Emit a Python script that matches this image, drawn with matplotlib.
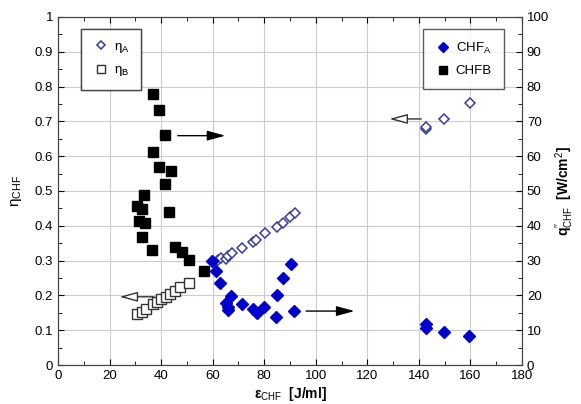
import matplotlib
matplotlib.use("Agg")
import matplotlib.pyplot as plt
from matplotlib.ticker import MultipleLocator
from matplotlib.lines import Line2D

plt.rcParams['font.family'] = ['Liberation Sans', 'DejaVu Sans']
plt.rcParams['mathtext.fontset'] = 'custom'
plt.rcParams['mathtext.rm'] = 'Liberation Sans'
plt.rcParams['mathtext.it'] = 'Liberation Sans:italic'
plt.rcParams['mathtext.bf'] = 'Liberation Sans:bold'

# eta_B (open squares, left axis)
etaB_x = [30.8, 32.6, 34.3, 36.8, 38.5, 40.1, 41.8, 43.3, 45.3, 47.4, 50.7]
etaB_y = [0.147, 0.152, 0.160, 0.174, 0.181, 0.189, 0.196, 0.204, 0.213, 0.225, 0.237]

# eta_A (open diamonds, left axis)
etaA_x = [60.2, 62.2, 63.1, 65.2, 66.1, 67.4, 71.3, 75.8, 76.8, 80.3, 84.8, 87.2, 90.0, 91.9,
          142.6, 142.6, 149.7, 159.8]
etaA_y = [0.296, 0.302, 0.307, 0.304, 0.313, 0.321, 0.337, 0.354, 0.359, 0.380, 0.397, 0.409, 0.424, 0.436,
          0.678, 0.683, 0.706, 0.754]

# CHF_B (solid squares, right axis)
chfB_x = [36.9, 39.2, 41.5, 37.0, 39.2, 43.8, 41.5, 33.4, 30.5, 32.7, 43.2, 31.4, 33.7, 32.7,
          36.3, 45.4, 48.0, 50.8, 56.8]
chfB_y = [77.8, 73.3, 66.1, 61.1, 57.0, 55.7, 51.9, 48.9, 45.8, 44.7, 44.1, 41.4, 40.7, 36.9,
          33.0, 33.8, 32.6, 30.2, 27.1]

# CHF_A (solid diamonds, right axis)
chfA_x = [59.9, 61.3, 62.8, 67.1, 65.0, 65.8, 65.8, 71.3, 75.8, 77.1, 80.0, 84.6, 84.8, 87.4,
          90.4, 91.7, 142.6, 142.6, 149.7, 159.5]
chfA_y = [29.9, 27.1, 23.5, 19.8, 17.9, 16.8, 15.8, 17.5, 16.0, 14.9, 16.8, 13.9, 20.1, 25.1,
          28.9, 15.6, 11.7, 10.6, 9.4, 8.3]

fig = plt.figure(figsize=(5.81, 4.04), dpi=100)
ax = fig.add_axes([0.0998, 0.0965, 0.7986, 0.8615])
ax2 = ax.twinx()

open_blue = '#3c3c9c'
solid_blue = '#0000cc'

ax.plot(etaB_x, etaB_y, ls='none', marker='s', ms=7, mfc='white', mec='#333333', mew=1.0, zorder=3)
ax.plot(etaA_x, etaA_y, ls='none', marker='D', ms=5, mfc='white', mec=open_blue, mew=1.1, zorder=3)
ax2.plot(chfB_x, chfB_y, ls='none', marker='s', ms=7.5, mfc='black', mec='black', zorder=3)
ax2.plot(chfA_x, chfA_y, ls='none', marker='D', ms=6, mfc=solid_blue, mec=solid_blue, zorder=3)

ax.set_xlim(0, 180)
ax.set_ylim(0, 1)
ax2.set_ylim(0, 100)

ax.xaxis.set_major_locator(MultipleLocator(20))
ax.xaxis.set_minor_locator(MultipleLocator(10))
ax.yaxis.set_major_locator(MultipleLocator(0.1))
ax.yaxis.set_minor_locator(MultipleLocator(0.05))
ax2.yaxis.set_major_locator(MultipleLocator(10))
ax2.yaxis.set_minor_locator(MultipleLocator(5))

ax.set_yticks([0, 0.1, 0.2, 0.3, 0.4, 0.5, 0.6, 0.7, 0.8, 0.9, 1.0])
ax.set_yticklabels(['0', '0.1', '0.2', '0.3', '0.4', '0.5', '0.6', '0.7', '0.8', '0.9', '1'])

ax.grid(True, which='major', color='#cccccc', lw=0.8)
ax.set_axisbelow(True)

for a in (ax, ax2):
    a.tick_params(which='both', direction='in', labelsize=9.5, top=True)
    a.tick_params(which='major', length=4)
    a.tick_params(which='minor', length=3)
    for s in a.spines.values():
        s.set_color('#444444')
ax.tick_params(right=False, which='both')
ax2.tick_params(left=False, which='both', labelleft=False)

ax.set_xlabel(r'ε$_{\mathrm{CHF}}$  [J/ml]', fontsize=10, fontweight='bold', labelpad=2)
ax.set_ylabel(r'η$_{\mathrm{CHF}}$', fontsize=11, labelpad=8)
ax2.set_ylabel(r'q$^{\prime\prime}_{\mathrm{CHF}}$  [W/cm$^{2}$]', fontsize=10, fontweight='bold', labelpad=3)

# arrows (left axis coordinates)
aprops = 'simple,head_length=1.1,head_width=0.55,tail_width=0.05'
ax.annotate('', xy=(66, 0.659), xytext=(45.4, 0.659),
            arrowprops=dict(arrowstyle='-|>,head_length=1.1,head_width=0.3', fc='black', ec='black', lw=1))
ax.annotate('', xy=(22.8, 0.196), xytext=(38.3, 0.196),
            arrowprops=dict(arrowstyle='-|>,head_length=1.1,head_width=0.3', fc='white', ec='#333333', lw=1))
ax.annotate('', xy=(127.5, 0.707), xytext=(142.0, 0.707),
            arrowprops=dict(arrowstyle='-|>,head_length=1.1,head_width=0.3', fc='white', ec='#333333', lw=1))
ax.annotate('', xy=(116.1, 0.155), xytext=(95.2, 0.155),
            arrowprops=dict(arrowstyle='-|>,head_length=1.1,head_width=0.3', fc='black', ec='black', lw=1))

# legends
h1 = [Line2D([], [], ls='none', marker='D', ms=4.5, mfc='white', mec=open_blue, mew=1.1),
      Line2D([], [], ls='none', marker='s', ms=6, mfc='white', mec='#333333', mew=1.0)]
leg1 = ax.legend(h1, [r'η$_{\mathrm{A}}$', r'η$_{\mathrm{B}}$'], loc='upper left',
                 bbox_to_anchor=(0.035, 0.985), fancybox=False, edgecolor='#333333',
                 fontsize=9.5, handletextpad=0.4, borderpad=0.9, labelspacing=0.7, handlelength=1.2)
leg1.get_frame().set_linewidth(1.0)
ax.add_artist(leg1)
h2 = [Line2D([], [], ls='none', marker='D', ms=5, mfc=solid_blue, mec=solid_blue),
      Line2D([], [], ls='none', marker='s', ms=6, mfc='black', mec='black')]
leg2 = ax2.legend(h2, [r'CHF$_{\mathrm{A}}$', 'CHFB'], loc='upper right',
                  bbox_to_anchor=(0.975, 0.985), fancybox=False, edgecolor='#333333',
                  fontsize=9.5, handletextpad=0.4, borderpad=0.9, labelspacing=0.7, handlelength=1.2)
leg2.get_frame().set_linewidth(1.0)

fig.savefig('out.png', dpi=100)
